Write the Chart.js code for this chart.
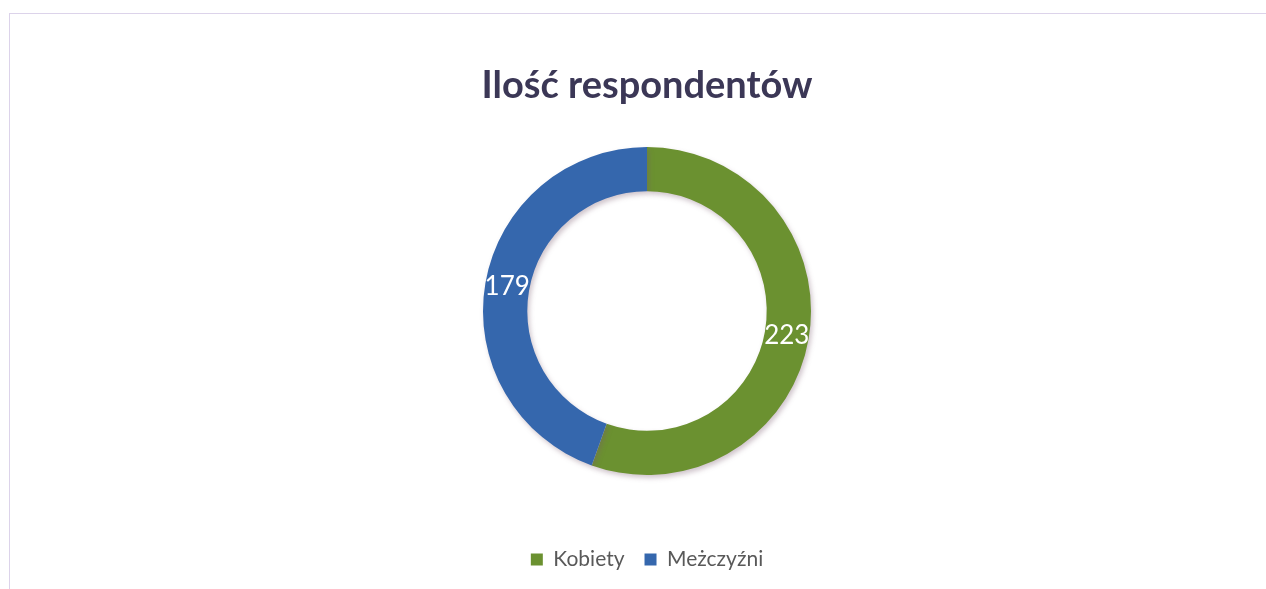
<!DOCTYPE html>
<html>
<head>
<meta charset="utf-8">
<script src="https://cdn.jsdelivr.net/npm/chart.js@4"></script>
<style>
  html, body { margin: 0; padding: 0; background: #fff; }
  #wrap { position: relative; width: 1266px; height: 589px; overflow: hidden; }
  #frame {
    position: absolute; left: 9px; top: 13px; right: -5px; bottom: -5px;
    border-left: 1px solid #dcd3ea; border-top: 1px solid #dcd3ea;
    pointer-events: none;
  }
</style>
</head>
<body>
<div id="wrap">
  <canvas id="graphic" width="1266" height="589"></canvas>
  <div id="frame"></div>
</div>
<script>
const labels = ['Kobiety', 'Meżczyźni'];
const values = [223, 179];
const colors = ['#6b9130', '#3567ad'];

// white numbers in the middle of each ring segment
const valueLabels = {
  id: 'valueLabels',
  afterDatasetsDraw(chart) {
    const ctx = chart.ctx;
    const meta = chart.getDatasetMeta(0);
    ctx.save();
    ctx.font = '26px Lato';
    ctx.fillStyle = '#ffffff';
    ctx.textAlign = 'center';
    ctx.textBaseline = 'middle';
    meta.data.forEach((arc, i) => {
      const p = arc.tooltipPosition();
      ctx.fillText(String(values[i]), p.x, p.y);
    });
    ctx.restore();
  }
};

// soft shadow under the ring
const ringShadow = {
  id: 'ringShadow',
  beforeDatasetsDraw(chart) {
    const ctx = chart.ctx;
    ctx.save();
    ctx.shadowColor = 'rgba(120, 90, 110, 0.35)';
    ctx.shadowBlur = 5;
    ctx.shadowOffsetX = 2;
    ctx.shadowOffsetY = 3;
  },
  afterDatasetsDraw(chart) {
    chart.ctx.restore();
  }
};

const data = {
  labels: labels,
  datasets: [{
    data: values,
    backgroundColor: colors,
    borderWidth: 0
  }]
};

const config = {
  type: 'doughnut',
  data,
  plugins: [ringShadow, valueLabels],
  options: {
    responsive: false,
    animation: false,
    cutout: '73%',
    layout: { padding: { left: 28, right: 0, top: 0, bottom: 9 } },
    plugins: {
      tooltip: { enabled: false },
      title: {
        display: true,
        text: 'Ilość respondentów',
        color: '#3b3756',
        font: { family: 'Lato', size: 38, weight: 'bold', lineHeight: 1.2 },
        padding: { top: 63, bottom: 38.4 }
      },
      legend: {
        position: 'bottom',
        title: {
          display: true,
          text: ' ',
          font: { size: 10, lineHeight: 1 },
          padding: { top: 44, bottom: 0 }
        },
        labels: {
          color: '#595959',
          font: { family: 'Lato', size: 21 },
          boxWidth: 12,
          boxHeight: 12,
          padding: 20
        }
      }
    }
  }
};

new Chart(document.getElementById('graphic'), config);
</script>
</body>
</html>
